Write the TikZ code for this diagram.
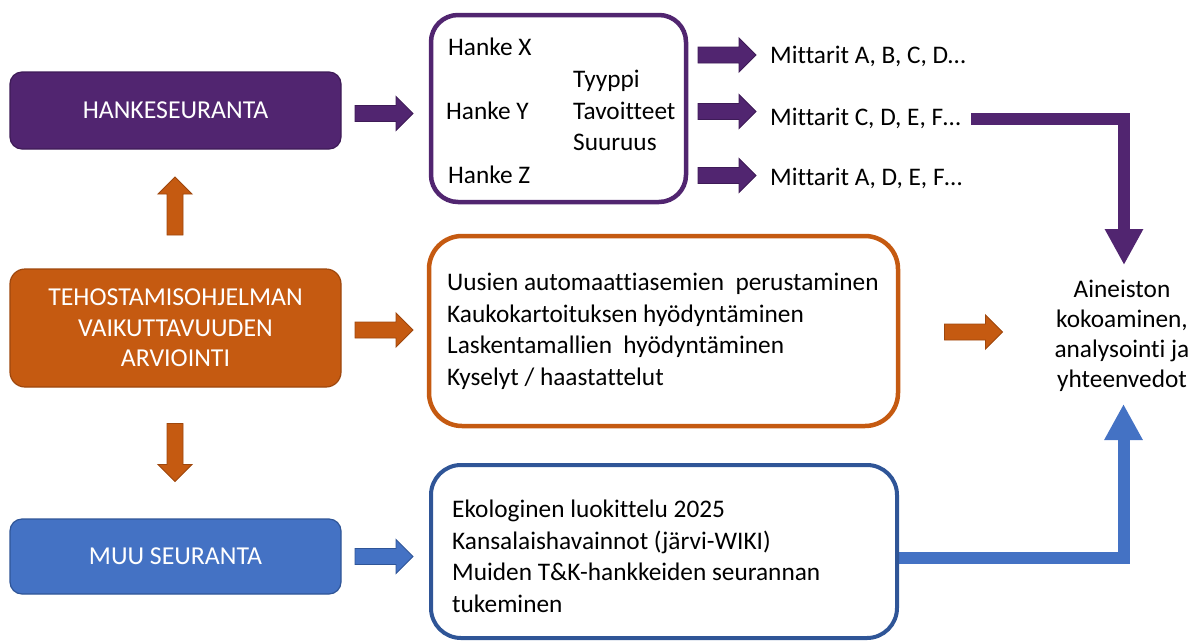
\documentclass[tikz,border=0pt]{standalone}
\usepackage{fontspec}
\setmainfont{Carlito}[Ligatures=NoCommon]
\usetikzlibrary{arrows.meta}

\definecolor{hpurple}{HTML}{512570}
\definecolor{hpurpleline}{HTML}{3E1B57}
\definecolor{horange}{HTML}{C55A11}
\definecolor{horangeline}{HTML}{9E470D}
\definecolor{hblue}{HTML}{4472C4}
\definecolor{hblueline}{HTML}{2F5597}

\begin{document}
\begin{tikzpicture}[x=1pt,y=-1pt,
  fillbox/.style={rectangle, rounded corners=12pt, minimum width=331pt,
    inner sep=0pt, line width=1.2pt, text=white, align=center,
    font=\fontsize{25.8}{30.5}\selectfont},
  framebox/.style={rectangle, line width=4.5pt, inner sep=0pt},
  label/.style={inner sep=0pt, anchor=base west,
    font=\fontsize{25.3}{31.5}\selectfont},
  listtext/.style={inner sep=0pt, anchor=base west, align=left,
    font=\fontsize{25.3}{31.4}\selectfont},
  flow/.style={line width=12pt, line join=miter, -{Triangle[length=36pt,width=36pt]}},
  pics/blockarrow/.style={code={
    \path[pic actions] (-29pt,-8pt) -- (12pt,-8pt) -- (12pt,-17pt) -- (29pt,0pt)
      -- (12pt,17pt) -- (12pt,8pt) -- (-29pt,8pt) -- cycle;}}
]
\useasboundingbox (0,0) rectangle (1195,641);

% left column: the three programme boxes
\node[fillbox, fill=hpurple, draw=hpurpleline, minimum height=77pt] (hs) at (175.5,110.5) {HANKESEURANTA};
\node[fillbox, fill=horange, draw=horangeline, minimum height=118pt, rounded corners=15pt] (te) at (175.5,328)
  {TEHOSTAMISOHJELMAN\\VAIKUTTAVUUDEN\\ARVIOINTI};
\node[fillbox, fill=hblue, draw=hblueline, minimum height=75pt] (mu) at (175.5,556.5) {MUU SEURANTA};

% vertical block arrows between the left boxes
\pic[fill=horange, draw=horangeline, line width=0.9pt, rotate=90] at (175,206) {blockarrow};
\pic[fill=horange, draw=horangeline, line width=0.9pt, rotate=-90] at (175,452.5) {blockarrow};

% block arrows to the middle column
\pic[fill=hpurple, draw=hpurpleline, line width=0.9pt] at (384,113.5) {blockarrow};
\pic[fill=horange, draw=horangeline, line width=0.9pt] at (384,330) {blockarrow};
\pic[fill=hblue, draw=hblueline, line width=0.9pt] at (384,556.5) {blockarrow};

% blue flow to the summary (drawn below the frame)
\coordinate (b0) at (897,557.5);
\coordinate (btip) at (1123.5,404);
\draw[flow, hblue] (b0) -| (btip);

% project frame
\node[framebox, draw=hpurple, rounded corners=27pt, minimum width=255pt, minimum height=187pt] (pbox) at (558.5,108.5) {};
\node[label] (hx) at (448,55) {Hanke X};
\node[label] (hy) at (446,119) {Hanke Y};
\node[label] (hz) at (448,183) {Hanke Z};
\node[label] (ty) at (573,87) {Tyyppi};
\node[label] (ta) at (573,119) {Tavoitteet};
\node[label] (su) at (573,150) {Suuruus};

% indicator arrows and labels
\pic[fill=hpurple, draw=hpurpleline, line width=0.9pt] at (727,55) {blockarrow};
\pic[fill=hpurple, draw=hpurpleline, line width=0.9pt] at (727,111.5) {blockarrow};
\pic[fill=hpurple, draw=hpurpleline, line width=0.9pt] at (727,175.5) {blockarrow};
\node[label] (m1) at (770,63) {Mittarit A, B, C, D…};
\node[label] (m2) at (770,125) {Mittarit C, D, E, F…};
\node[label] (m3) at (770,185) {Mittarit A, D, E, F…};

% methods frame (multi-line nodes sit on the baseline of their last line)
\node[framebox, draw=horange, rounded corners=33pt, minimum width=469pt, minimum height=190pt] (obox) at (663.5,331) {};
\node[listtext] (olist) at (447,385) {Uusien automaattiasemien\ \ perustaminen\\Kaukokartoituksen hyödyntäminen\\Laskentamallien\ \ hyödyntäminen\\Kyselyt / haastattelut};
\pic[fill=horange, draw=horangeline, line width=0.9pt] at (973.5,332) {blockarrow};

% other monitoring frame
\node[framebox, draw=hblueline, line width=4pt, rounded corners=30pt, minimum width=466pt, minimum height=173pt] (bbox) at (664,551.5) {};
\node[listtext] (blist) at (452,612) {Ekologinen luokittelu 2025\\Kansalaishavainnot (järvi-WIKI)\\Muiden T\&K-hankkeiden seurannan\\tukeminen};

% summary
\node[inner sep=0pt, anchor=base, align=center, font=\fontsize{25.3}{30}\selectfont] (res) at (1122,387)
  {Aineiston\\kokoaminen,\\analysointi ja\\yhteenvedot};

% purple flow from the indicators to the summary
\coordinate (p0) at (971,119);
\coordinate (ptip) at (1124,265);
\draw[flow, hpurple] (p0) -| (ptip);
\end{tikzpicture}
\end{document}
